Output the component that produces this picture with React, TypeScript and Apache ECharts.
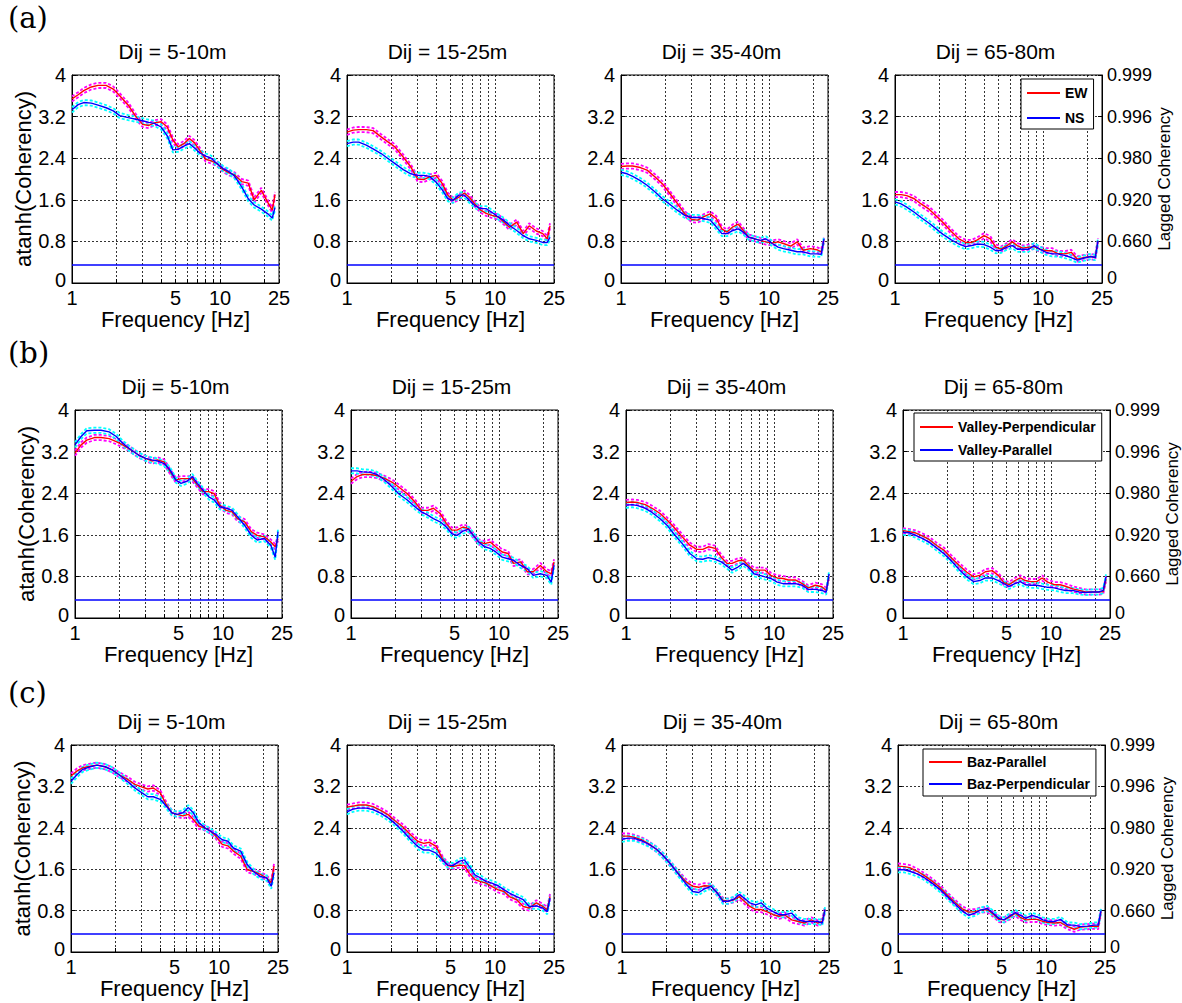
import React, { useEffect, useRef } from "react";
import * as echarts from "echarts";

// ---------- data ----------
const freqs = [1, 1.1, 1.2, 1.35, 1.5, 1.7, 1.9, 2.1, 2.4, 2.7, 3, 3.3, 3.6, 4, 4.4, 4.8, 5.2, 5.7, 6.2, 6.7, 7.3, 8, 8.7, 9.5, 10.5, 11.5, 12.5, 14, 15.5, 17, 19, 21, 22.5, 23.5];

const xTickLabels = [1, 5, 10, 25];
const xGridFreqs = [1, 2, 3, 4, 5, 6, 7, 8, 9, 10, 20, 25];
const rightTickLabels = ["0", "0.660", "0.920", "0.980", "0.996", "0.999"];
const panelTitles = ["Dij = 5-10m", "Dij = 15-25m", "Dij = 35-40m", "Dij = 65-80m"];
const rowLabels = ["(a)", "(b)", "(c)"];
const legendNames = [
  ["EW", "NS"],
  ["Valley-Perpendicular", "Valley-Parallel"],
  ["Baz-Parallel", "Baz-Perpendicular"],
];
const threshold = 0.36;
const ciHalfWidth = 0.05;

// row (a)
const a1Red = [3.54, 3.62, 3.7, 3.77, 3.8, 3.8, 3.73, 3.6, 3.42, 3.2, 3.05, 3.03, 3.08, 3.1, 3.0, 2.75, 2.62, 2.68, 2.78, 2.7, 2.55, 2.38, 2.35, 2.3, 2.18, 2.12, 2.08, 1.95, 1.92, 1.6, 1.78, 1.55, 1.4, 1.7];
const a1Blue = [3.33, 3.43, 3.47, 3.46, 3.42, 3.37, 3.31, 3.22, 3.18, 3.15, 3.12, 3.09, 3.07, 3.0, 2.83, 2.56, 2.57, 2.63, 2.68, 2.6, 2.5, 2.44, 2.4, 2.3, 2.2, 2.14, 2.06, 1.85, 1.62, 1.5, 1.42, 1.33, 1.25, 1.45];
const a2Red = [2.9, 2.94, 2.95, 2.95, 2.93, 2.81, 2.71, 2.62, 2.42, 2.23, 2.0, 1.99, 2.04, 2.07, 1.91, 1.69, 1.59, 1.65, 1.73, 1.65, 1.52, 1.4, 1.34, 1.3, 1.27, 1.17, 1.07, 1.17, 0.95, 1.1, 1.0, 0.95, 0.85, 1.1];
const a2Blue = [2.68, 2.71, 2.71, 2.65, 2.58, 2.49, 2.39, 2.3, 2.18, 2.1, 2.07, 2.07, 2.05, 1.94, 1.79, 1.62, 1.59, 1.69, 1.69, 1.59, 1.49, 1.43, 1.43, 1.36, 1.27, 1.2, 1.11, 1.01, 0.91, 0.85, 0.82, 0.78, 0.78, 0.88];
const a3Red = [2.24, 2.25, 2.25, 2.22, 2.17, 2.04, 1.91, 1.75, 1.53, 1.33, 1.22, 1.21, 1.27, 1.33, 1.24, 1.04, 0.98, 1.08, 1.13, 1.01, 0.88, 0.85, 0.82, 0.79, 0.77, 0.79, 0.76, 0.71, 0.79, 0.63, 0.66, 0.64, 0.6, 0.82];
const a3Blue = [2.13, 2.1, 2.05, 1.97, 1.88, 1.75, 1.62, 1.53, 1.4, 1.3, 1.26, 1.26, 1.24, 1.21, 1.08, 0.95, 0.95, 1.01, 1.04, 0.98, 0.88, 0.85, 0.82, 0.85, 0.76, 0.69, 0.66, 0.63, 0.6, 0.6, 0.56, 0.56, 0.55, 0.85];
const a4Red = [1.7, 1.7, 1.68, 1.62, 1.52, 1.42, 1.29, 1.17, 0.99, 0.85, 0.78, 0.78, 0.83, 0.91, 0.85, 0.69, 0.65, 0.72, 0.79, 0.72, 0.67, 0.69, 0.7, 0.65, 0.62, 0.62, 0.57, 0.56, 0.59, 0.46, 0.49, 0.51, 0.49, 0.81];
const a4Blue = [1.56, 1.52, 1.46, 1.36, 1.26, 1.15, 1.04, 0.94, 0.83, 0.75, 0.7, 0.72, 0.75, 0.74, 0.69, 0.62, 0.63, 0.69, 0.72, 0.65, 0.65, 0.65, 0.72, 0.65, 0.59, 0.56, 0.56, 0.53, 0.49, 0.44, 0.48, 0.51, 0.49, 0.81];

// row (b)
const b1Red = [3.17, 3.33, 3.42, 3.47, 3.47, 3.45, 3.39, 3.33, 3.23, 3.13, 3.07, 3.02, 3.04, 3.0, 2.81, 2.65, 2.68, 2.68, 2.68, 2.56, 2.43, 2.43, 2.39, 2.17, 2.07, 2.04, 1.91, 1.85, 1.66, 1.59, 1.56, 1.46, 1.37, 1.53];
const b1Blue = [3.33, 3.49, 3.6, 3.61, 3.61, 3.58, 3.49, 3.36, 3.23, 3.13, 3.07, 3.04, 3.02, 2.97, 2.84, 2.65, 2.59, 2.63, 2.72, 2.59, 2.46, 2.33, 2.27, 2.14, 2.11, 2.07, 1.95, 1.78, 1.59, 1.5, 1.53, 1.4, 1.17, 1.66];
const b2Red = [2.63, 2.72, 2.76, 2.76, 2.74, 2.68, 2.61, 2.52, 2.39, 2.23, 2.07, 2.07, 2.11, 2.01, 1.82, 1.69, 1.69, 1.75, 1.72, 1.59, 1.46, 1.43, 1.46, 1.37, 1.27, 1.24, 1.05, 1.08, 0.89, 0.89, 1.01, 0.89, 0.85, 1.08];
const b2Blue = [2.83, 2.83, 2.81, 2.8, 2.76, 2.65, 2.52, 2.39, 2.27, 2.14, 2.04, 1.98, 1.91, 1.85, 1.75, 1.62, 1.59, 1.67, 1.71, 1.59, 1.46, 1.37, 1.34, 1.27, 1.17, 1.14, 1.11, 1.01, 0.95, 0.82, 0.85, 0.82, 0.69, 1.01];
const b3Red = [2.22, 2.23, 2.22, 2.18, 2.11, 2.01, 1.88, 1.75, 1.56, 1.4, 1.32, 1.32, 1.37, 1.34, 1.17, 1.05, 1.05, 1.1, 1.11, 1.01, 0.92, 0.92, 0.92, 0.82, 0.77, 0.76, 0.73, 0.73, 0.66, 0.58, 0.63, 0.6, 0.53, 0.79];
const b3Blue = [2.17, 2.18, 2.16, 2.11, 2.03, 1.91, 1.78, 1.62, 1.43, 1.24, 1.14, 1.13, 1.16, 1.13, 1.08, 1.0, 0.92, 0.98, 1.05, 0.98, 0.85, 0.82, 0.79, 0.76, 0.69, 0.66, 0.66, 0.66, 0.63, 0.55, 0.55, 0.53, 0.5, 0.85];
const b4Red = [1.68, 1.66, 1.64, 1.58, 1.51, 1.39, 1.3, 1.17, 1.01, 0.88, 0.79, 0.82, 0.89, 0.91, 0.82, 0.68, 0.64, 0.72, 0.77, 0.72, 0.7, 0.7, 0.77, 0.69, 0.64, 0.64, 0.61, 0.56, 0.53, 0.5, 0.5, 0.5, 0.51, 0.75];
const b4Blue = [1.65, 1.64, 1.6, 1.53, 1.46, 1.34, 1.23, 1.11, 0.93, 0.79, 0.7, 0.72, 0.77, 0.77, 0.72, 0.66, 0.61, 0.66, 0.7, 0.64, 0.63, 0.63, 0.61, 0.59, 0.58, 0.55, 0.53, 0.53, 0.5, 0.49, 0.5, 0.5, 0.53, 0.79];

// row (c)
const c1Red = [3.4, 3.5, 3.56, 3.59, 3.61, 3.58, 3.52, 3.43, 3.34, 3.24, 3.19, 3.15, 3.17, 3.08, 2.85, 2.69, 2.66, 2.63, 2.66, 2.56, 2.43, 2.4, 2.34, 2.24, 2.08, 2.05, 1.95, 1.85, 1.59, 1.56, 1.5, 1.43, 1.34, 1.66];
const c1Blue = [3.3, 3.43, 3.53, 3.58, 3.61, 3.58, 3.52, 3.43, 3.3, 3.17, 3.08, 3.0, 3.0, 2.95, 2.82, 2.69, 2.66, 2.69, 2.79, 2.69, 2.5, 2.4, 2.34, 2.27, 2.17, 2.14, 2.01, 1.95, 1.69, 1.56, 1.46, 1.43, 1.27, 1.53];
const c2Red = [2.8, 2.82, 2.84, 2.84, 2.81, 2.73, 2.65, 2.54, 2.41, 2.26, 2.14, 2.1, 2.12, 2.04, 1.81, 1.67, 1.65, 1.68, 1.67, 1.52, 1.4, 1.36, 1.33, 1.27, 1.2, 1.17, 1.07, 1.01, 0.88, 0.85, 0.95, 0.88, 0.82, 1.07];
const c2Blue = [2.71, 2.76, 2.78, 2.78, 2.75, 2.68, 2.59, 2.49, 2.33, 2.17, 2.04, 1.97, 1.97, 1.91, 1.78, 1.68, 1.67, 1.75, 1.78, 1.65, 1.49, 1.43, 1.36, 1.33, 1.28, 1.2, 1.14, 1.07, 1.01, 0.88, 0.89, 0.85, 0.78, 1.04];
const c3Red = [2.24, 2.24, 2.22, 2.17, 2.1, 1.99, 1.86, 1.72, 1.52, 1.36, 1.27, 1.25, 1.28, 1.27, 1.14, 1.0, 0.98, 1.01, 1.07, 0.98, 0.88, 0.82, 0.82, 0.78, 0.72, 0.69, 0.72, 0.62, 0.59, 0.56, 0.62, 0.56, 0.59, 0.82];
const c3Blue = [2.18, 2.2, 2.2, 2.15, 2.09, 1.99, 1.86, 1.72, 1.51, 1.32, 1.17, 1.15, 1.22, 1.27, 1.14, 0.98, 0.98, 1.02, 1.11, 1.04, 0.95, 0.91, 0.95, 0.85, 0.78, 0.72, 0.72, 0.75, 0.62, 0.59, 0.59, 0.59, 0.56, 0.82];
const c4Red = [1.66, 1.65, 1.63, 1.56, 1.48, 1.37, 1.26, 1.13, 0.97, 0.84, 0.77, 0.78, 0.81, 0.82, 0.73, 0.63, 0.62, 0.68, 0.75, 0.67, 0.62, 0.63, 0.63, 0.59, 0.57, 0.56, 0.57, 0.49, 0.44, 0.48, 0.49, 0.5, 0.49, 0.78];
const c4Blue = [1.59, 1.59, 1.56, 1.51, 1.44, 1.33, 1.22, 1.1, 0.94, 0.8, 0.71, 0.75, 0.81, 0.84, 0.75, 0.65, 0.62, 0.7, 0.76, 0.71, 0.65, 0.71, 0.68, 0.62, 0.59, 0.59, 0.63, 0.52, 0.52, 0.49, 0.5, 0.52, 0.52, 0.8];

const panelSeries = [
  [[a1Red, a1Blue], [a2Red, a2Blue], [a3Red, a3Blue], [a4Red, a4Blue]],
  [[b1Red, b1Blue], [b2Red, b2Blue], [b3Red, b3Blue], [b4Red, b4Blue]],
  [[c1Red, c1Blue], [c2Red, c2Blue], [c3Red, c3Blue], [c4Red, c4Blue]],
];

// ---------- layout ----------
const rowTops = [75, 410, 745];
const rowHeights = [208, 208, 207];
const colLefts = [
  [72, 347, 621, 895],
  [75, 351, 626, 903],
  [71, 347, 622, 898],
];
const plotWidth = 207;
const rowLabelTops = [3, 338, 678];
const legendPos = [
  { left: 1021, top: 79, gap: 9, pad: [6, 6, 3, 6] },
  { left: 914, top: 413, gap: 7, pad: [6, 6, 3, 6] },
  { left: 923, top: 749, gap: 6, pad: [5, 6, 4, 6] },
];

const SANS = "'Liberation Sans', Arial, sans-serif";

export default function App() {
  const ref = useRef<HTMLDivElement>(null);

  useEffect(() => {
    if (!ref.current) return;
    const chart = echarts.init(ref.current, undefined, { renderer: "svg" });
    const LOG_MAX = Math.log10(25);

    const grids: any[] = [];
    const xAxes: any[] = [];
    const yAxes: any[] = [];
    const series: any[] = [];
    const titles: any[] = [];
    const rightAxes: any[] = [];

    rowLabels.forEach((lab, r) => {
      titles.push({
        text: lab,
        left: 8,
        top: rowLabelTops[r],
        padding: 0,
        textStyle: { fontFamily: "'DejaVu Serif', serif", fontSize: 29, fontWeight: "normal", color: "#000" },
      });
    });

    let gi = 0;
    for (let r = 0; r < 3; r++) {
      for (let c = 0; c < 4; c++) {
        const left = colLefts[r][c];
        const top = rowTops[r];
        grids.push({
          left,
          top,
          width: plotWidth,
          height: rowHeights[r],
          show: true,
          borderColor: "#000",
          borderWidth: 1,
          backgroundColor: "#fff",
          containLabel: false,
        });
        titles.push({
          text: panelTitles[c],
          left: left + plotWidth / 2 - 3,
          top: top - 34,
          textAlign: "center",
          padding: 0,
          textStyle: { fontFamily: SANS, fontSize: 21, fontWeight: "normal", color: "#000" },
        });
        xAxes.push({
          gridIndex: gi,
          type: "value",
          min: 0,
          max: LOG_MAX,
          axisLine: { show: true, onZero: false, lineStyle: { color: "#000", width: 1 } },
          axisTick: {
            show: true,
            inside: true,
            length: 4,
            customValues: xGridFreqs.map((f) => Math.log10(f)),
            lineStyle: { color: "#000" },
          },
          axisLabel: {
            customValues: xTickLabels.map((f) => Math.log10(f)),
            formatter: (v: number) => String(Math.round(Math.pow(10, v))),
            color: "#000",
            fontSize: 20,
            fontFamily: SANS,
            margin: 5,
          },
          splitLine: { show: true, lineStyle: { color: "#000", type: [2, 2], width: 0.8 } },
          name: "Frequency [Hz]",
          nameLocation: "middle",
          nameGap: 20,
          nameTextStyle: { fontSize: 22, fontFamily: SANS, color: "#000" },
        });
        yAxes.push({
          gridIndex: gi,
          type: "value",
          min: 0,
          max: 4,
          interval: 0.8,
          axisLine: { show: true, onZero: false, lineStyle: { color: "#000", width: 1 } },
          axisTick: { show: true, inside: true, length: 4, lineStyle: { color: "#000" } },
          axisLabel: {
            formatter: (v: number) => (v === 0 ? "{z|0}" : String(Number(v.toFixed(1)))),
            rich: { z: { fontSize: 20, fontFamily: SANS, color: "#000", padding: [0, 0, 6, 0] } },
            color: "#000",
            fontSize: 20,
            fontFamily: SANS,
            margin: 6,
          },
          splitLine: { show: true, lineStyle: { color: "#000", type: [2, 2], width: 0.8 } },
          name: c === 0 ? "atanh(Coherency)" : "",
          nameLocation: "middle",
          nameRotate: 90,
          nameGap: 36,
          nameTextStyle: { fontSize: 22, fontFamily: SANS, color: "#000" },
        });
        if (c === 3) {
          rightAxes.push({
            gridIndex: gi,
            type: "value",
            position: "right",
            min: 0,
            max: 4,
            interval: 0.8,
            axisLine: { show: true, onZero: false, lineStyle: { color: "#000", width: 1 } },
            axisTick: { show: true, inside: true, length: 4, lineStyle: { color: "#000" } },
            axisLabel: {
              formatter: (v: number) => {
                const idx = Math.round(v / 0.8);
                return idx === 0 ? "{z|" + rightTickLabels[0] + "}" : rightTickLabels[idx];
              },
              rich: { z: { fontSize: 18, fontFamily: SANS, color: "#000", padding: [0, 0, 10, 0] } },
              color: "#000",
              fontSize: 18,
              fontFamily: SANS,
              margin: 5,
            },
            splitLine: { show: false },
            name: "Lagged Coherency",
            nameLocation: "middle",
            nameRotate: 90,
            nameGap: 50,
            nameTextStyle: { fontSize: 17, fontFamily: SANS, color: "#000" },
          });
        }

        const [red, blue] = panelSeries[r][c];
        const pts = (vals: number[], off: number) => freqs.map((f, k) => [Math.log10(f), vals[k] + off]);
        const band = (vals: number[], off: number, color: string) => ({
          type: "line",
          xAxisIndex: gi,
          yAxisIndex: gi,
          data: pts(vals, off),
          symbol: "none",
          silent: true,
          z: 2,
          lineStyle: { color, width: 1.8, type: [3, 2] },
        });
        series.push(band(red, ciHalfWidth, "#ff00ff"));
        series.push(band(red, -ciHalfWidth, "#ff00ff"));
        series.push({
          type: "line",
          name: legendNames[r][0],
          xAxisIndex: gi,
          yAxisIndex: gi,
          data: pts(red, 0),
          symbol: "none",
          showSymbol: false,
          z: 3,
          color: "#ff0000",
          lineStyle: { color: "#ff0000", width: 1.4 },
        });
        series.push(band(blue, ciHalfWidth, "#00ffff"));
        series.push(band(blue, -ciHalfWidth, "#00ffff"));
        series.push({
          type: "line",
          name: legendNames[r][1],
          xAxisIndex: gi,
          yAxisIndex: gi,
          data: pts(blue, 0),
          symbol: "none",
          showSymbol: false,
          z: 4,
          color: "#0000ff",
          lineStyle: { color: "#0000ff", width: 1.4 },
          markLine: {
            silent: true,
            symbol: "none",
            label: { show: false },
            lineStyle: { color: "#0000ff", width: 1.6, type: "solid" },
            data: [{ yAxis: threshold }],
          },
        });
        gi++;
      }
    }

    const legends = legendNames.map((names, r) => ({
      data: names.map((n) => ({ name: n, icon: "rect" })),
      left: legendPos[r].left,
      top: legendPos[r].top,
      orient: "vertical",
      itemWidth: 33,
      itemHeight: 2,
      itemGap: legendPos[r].gap,
      padding: legendPos[r].pad,
      backgroundColor: "#fff",
      borderColor: "#000",
      borderWidth: 1,
      borderRadius: 0,
      selectedMode: false,
      textStyle: { fontFamily: SANS, fontSize: 14, fontWeight: "bold", color: "#000", lineHeight: 16 },
    }));

    chart.setOption({
      animation: false,
      backgroundColor: "#fff",
      title: titles,
      grid: grids,
      xAxis: xAxes,
      yAxis: [...yAxes, ...rightAxes],
      legend: legends,
      series,
    });

    return () => chart.dispose();
  }, []);

  return (
    <div
      ref={ref}
      style={{ position: "fixed", left: 0, top: 0, width: 1182, height: 1003, background: "#fff" }}
    />
  );
}
